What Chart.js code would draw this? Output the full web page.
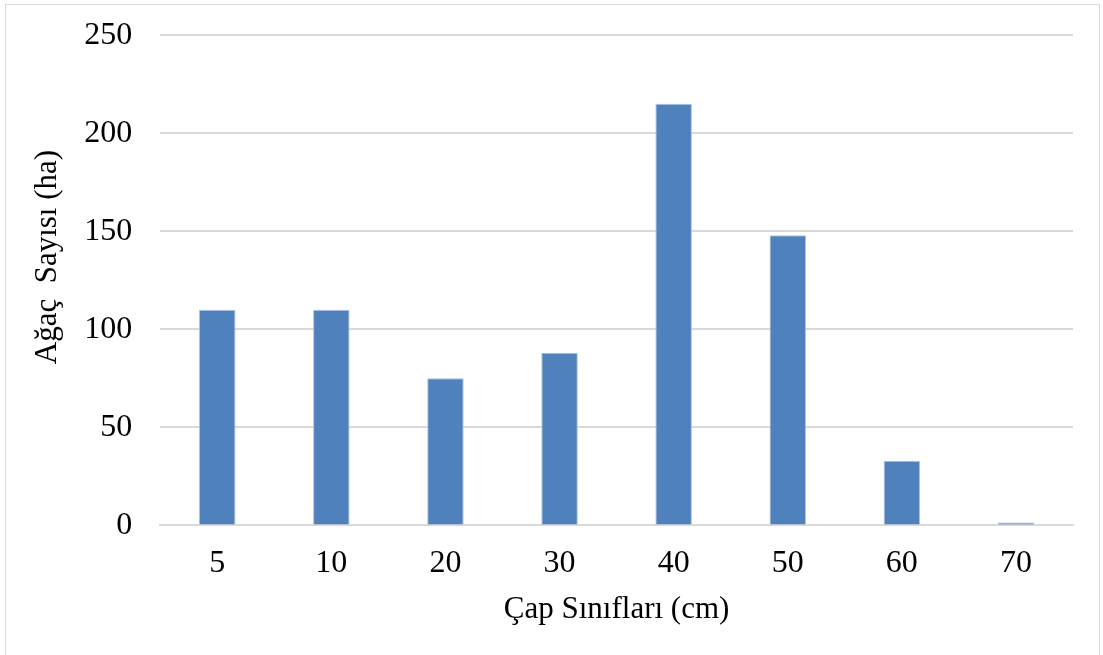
<!DOCTYPE html>
<html>
<head>
<meta charset="utf-8">
<script src="https://cdn.jsdelivr.net/npm/chart.js@4/dist/chart.umd.min.js"></script>
<style>
    html, body { margin: 0; padding: 0; background: #fff; overflow: hidden; }
    #wrap { position: relative; width: 1103px; height: 655px; overflow: hidden; }
    #frame { position: absolute; left: 5px; top: 4px; width: 1095px; height: 660px; border: 1px solid #d9d9d9; box-sizing: border-box; }
    canvas { position: absolute; left: 0; top: -12px; }
</style>
</head>
<body>
<div id="wrap">
    <div id="frame"></div>
    <canvas id="chart1" width="1103" height="667"></canvas>
</div>
<script>
const categories = ['5', '10', '20', '30', '40', '50', '60', '70'];
const treeCounts = [110, 110, 75, 88, 215, 148, 33, 1.5];
const yTicks = [0, 50, 100, 150, 200, 250];

const serif = "'Liberation Serif', 'Times New Roman', serif";

new Chart(document.getElementById('chart1'), {
    type: 'bar',
    data: {
        labels: categories,
        datasets: [{
            label: 'Ağaç Sayısı',
            data: treeCounts,
            backgroundColor: '#4f81bd',
            borderColor: '#a9c3e6',
            borderWidth: { left: 1, right: 1, top: 1, bottom: 0 },
            barPercentage: 0.32,
            categoryPercentage: 1
        }]
    },
    options: {
        responsive: false,
        animation: false,
        devicePixelRatio: 1,
        layout: { padding: { left: 29, right: 30, top: 0, bottom: 27 } },
        plugins: {
            legend: { display: false },
            tooltip: { enabled: false }
        },
        scales: {
            x: {
                grid: { display: false },
                border: { color: '#d9d9d9', width: 2 },
                ticks: { color: '#000', font: { family: serif, size: 32 }, padding: 11 },
                title: { display: true, text: 'Çap Sınıfları (cm)', color: '#000', font: { family: serif, size: 31 }, padding: { top: -3, bottom: 0 } }
            },
            y: {
                min: 0,
                max: 250,
                afterBuildTicks: axis => { axis.ticks = yTicks.map(v => ({ value: v })); },
                grid: { color: '#d9d9d9', lineWidth: 2, drawTicks: false },
                border: { display: false },
                ticks: { color: '#000', font: { family: serif, size: 32 }, padding: 28 },
                // leading en spaces nudge the title up, as in the original
                title: { display: true, text: '\u2002\u2002\u2002Ağaç  Sayısı (ha)', color: '#000', font: { family: serif, size: 31 }, padding: { top: 0, bottom: -10 } }
            }
        }
    }
});
</script>
</body>
</html>
